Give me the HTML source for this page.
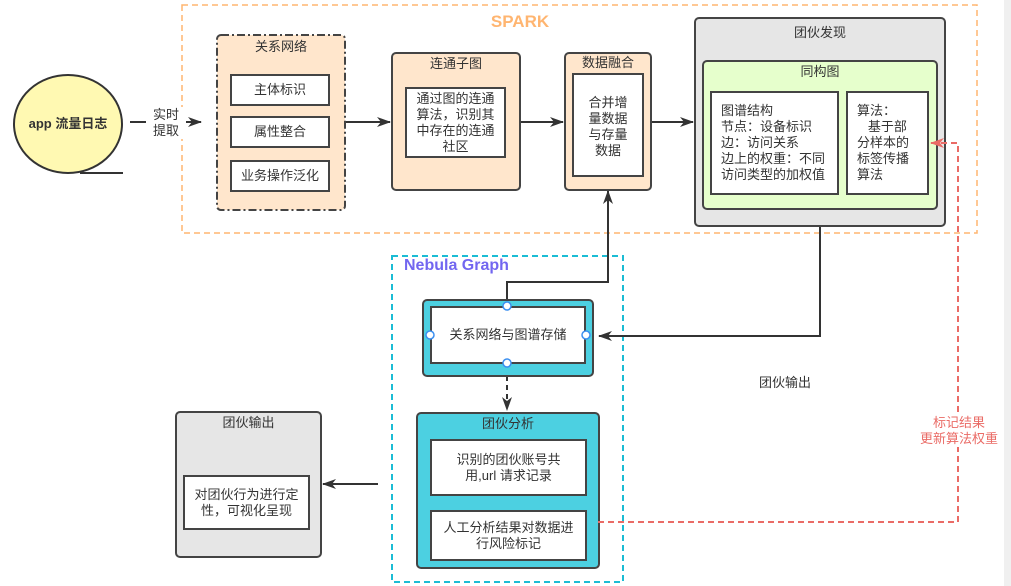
<!DOCTYPE html>
<html><head><meta charset="utf-8"><style>
body{margin:0;width:1011px;height:586px;background:#fff;position:relative;overflow:hidden;font-family:"Liberation Sans","Noto Sans CJK SC",sans-serif;font-size:13px;color:#333}
.b{position:absolute;box-sizing:border-box;border:2px solid #444;border-radius:5px}
.w{position:absolute;box-sizing:border-box;border:2px solid #444;background:#fff;display:flex;align-items:center;justify-content:center;text-align:center;line-height:16px;white-space:nowrap}
.t{position:absolute;text-align:center;line-height:16px;white-space:nowrap}
</style></head><body>
<div style="position:absolute;left:1004px;top:0;width:7px;height:586px;background:#f0f0f0"></div>
<svg width="1011" height="586" style="position:absolute;left:0;top:0">
<defs>
<marker id="a" markerWidth="14" markerHeight="12" refX="13" refY="6" orient="auto" markerUnits="userSpaceOnUse"><path d="M0,1 L14,6 L0,11 L4,6 z" fill="#333"/></marker>
</defs>
<rect x="182" y="5" width="795" height="228" fill="none" stroke="#FFB570" stroke-width="1.5" stroke-dasharray="6,4"/>
<rect x="392" y="256" width="231" height="326" fill="none" stroke="#1BBCD4" stroke-width="2" stroke-dasharray="6,4"/>
<ellipse cx="68" cy="124" rx="54" ry="49" fill="#FFF9B2" stroke="#333" stroke-width="2"/>
<line x1="80" y1="173" x2="123" y2="173" stroke="#333" stroke-width="2"/>
<rect x="217" y="35" width="128" height="175" rx="4" fill="#FFE6CC" stroke="#444" stroke-width="2" stroke-dasharray="8,3,2,3"/>
<g stroke="#333" stroke-width="2" fill="none">
<line x1="130" y1="122" x2="201" y2="122" marker-end="url(#a)"/>
<line x1="346" y1="122" x2="390" y2="122" marker-end="url(#a)"/>
<line x1="521" y1="122" x2="563" y2="122" marker-end="url(#a)"/>
<line x1="652" y1="122" x2="693" y2="122" marker-end="url(#a)"/>
<polyline points="507,305 507,282 608,282 608,191" marker-end="url(#a)"/>
<polyline points="820,226 820,336 599,336" marker-end="url(#a)"/>
<line x1="507" y1="376" x2="507" y2="410" stroke-dasharray="5,4" marker-end="url(#a)"/>
<line x1="378" y1="484" x2="323" y2="484" marker-end="url(#a)"/>
</g>
</svg>
<div class="t" style="left:16px;top:116px;width:104px;font-weight:bold">app 流量日志</div>
<div class="t" style="left:146px;top:107px;width:40px;background:#fff">实时<br>提取</div>
<div class="t" style="left:470px;top:14px;width:100px;color:#FFB570;font-weight:bold;font-size:17px">SPARK</div>

<div class="t" style="left:216px;top:39px;width:130px">关系网络</div>
<div class="w" style="left:230px;top:74px;width:100px;height:32px">主体标识</div>
<div class="w" style="left:230px;top:116px;width:100px;height:32px">属性整合</div>
<div class="w" style="left:230px;top:160px;width:100px;height:32px">业务操作泛化</div>

<div class="b" style="left:391px;top:52px;width:130px;height:139px;background:#FFE6CC"></div>
<div class="t" style="left:391px;top:56px;width:130px">连通子图</div>
<div class="w" style="left:405px;top:87px;width:101px;height:71px">通过图的连通<br>算法，识别其<br>中存在的连通<br>社区</div>

<div class="b" style="left:564px;top:52px;width:88px;height:139px;background:#FFE6CC"></div>
<div class="t" style="left:564px;top:55px;width:88px">数据融合</div>
<div class="w" style="left:572px;top:73px;width:72px;height:104px;align-items:flex-start;padding-top:20px">合并增<br>量数据<br>与存量<br>数据</div>

<div class="b" style="left:694px;top:17px;width:252px;height:210px;background:#E6E6E6"></div>
<div class="t" style="left:694px;top:25px;width:252px">团伙发现</div>
<div class="b" style="left:702px;top:60px;width:236px;height:150px;background:#E6FFCC"></div>
<div class="t" style="left:702px;top:64px;width:236px">同构图</div>
<div class="w" style="left:710px;top:91px;width:129px;height:104px;text-align:left;justify-content:flex-start;padding-left:9px">图谱结构<br>节点：设备标识<br>边：访问关系<br>边上的权重：不同<br>访问类型的加权值</div>
<div class="w" style="left:846px;top:91px;width:83px;height:104px;text-align:left;justify-content:flex-start;padding-left:9px">算法：<br>&nbsp;&nbsp;&nbsp;基于部<br>分样本的<br>标签传播<br>算法</div>

<div class="t" style="left:404px;top:256px;width:140px;text-align:left;color:#7266F0;font-weight:bold;font-size:16px;line-height:20px">Nebula Graph</div>
<div class="b" style="left:422px;top:299px;width:172px;height:78px;background:#4CD0E1"></div>
<div class="w" style="left:430px;top:306px;width:156px;height:58px">关系网络与图谱存储</div>

<div class="b" style="left:416px;top:412px;width:184px;height:157px;background:#4CD0E1"></div>
<div class="t" style="left:416px;top:416px;width:184px">团伙分析</div>
<div class="w" style="left:430px;top:439px;width:157px;height:57px">识别的团伙账号共<br>用,url 请求记录</div>
<div class="w" style="left:430px;top:510px;width:157px;height:51px">人工分析结果对数据进<br>行风险标记</div>

<div class="b" style="left:175px;top:411px;width:147px;height:147px;background:#E6E6E6"></div>
<div class="t" style="left:175px;top:415px;width:147px">团伙输出</div>
<div class="w" style="left:183px;top:475px;width:127px;height:55px">对团伙行为进行定<br>性，可视化呈现</div>

<div class="t" style="left:755px;top:375px;width:60px">团伙输出</div>
<svg width="1011" height="586" style="position:absolute;left:0;top:0">
<defs>
<marker id="r" markerWidth="14" markerHeight="12" refX="13" refY="6" orient="auto" markerUnits="userSpaceOnUse"><path d="M0,1 L14,6 L0,11 L4,6 z" fill="#EA6B66"/></marker>
</defs>
<g fill="#fff" stroke="#3B8FF0" stroke-width="1.5">
<circle cx="507" cy="306" r="4"/><circle cx="430" cy="335" r="4"/><circle cx="586" cy="335" r="4"/><circle cx="507" cy="363" r="4"/>
</g>
<polyline points="598,522 958,522 958,143 931,143" stroke="#EA6B66" stroke-width="2" fill="none" stroke-dasharray="6,4" marker-end="url(#r)"/>
</svg>
<div class="t" style="left:915px;top:415px;width:88px;color:#EA6B66;background:#fff">标记结果<br>更新算法权重</div>
</body></html>
